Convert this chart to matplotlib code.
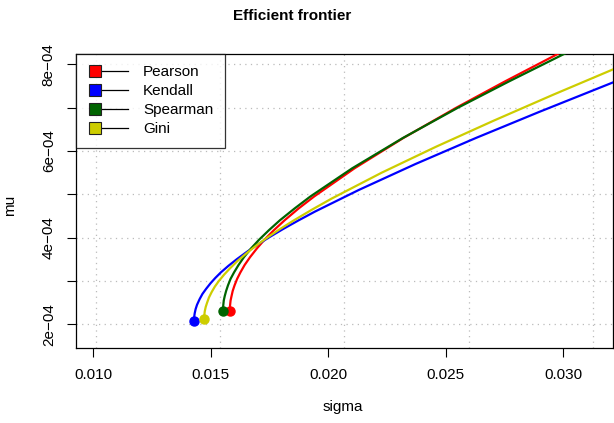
import matplotlib
matplotlib.use("Agg")
import matplotlib.pyplot as plt
from matplotlib.lines import Line2D
from matplotlib.legend_handler import HandlerLine2D

plt.rcParams['font.family'] = ['Liberation Sans', 'DejaVu Sans']

# efficient frontiers (sigma, mu)
pearson_sigma = [0.01581, 0.01581, 0.01582, 0.01584, 0.01588, 0.01593, 0.01601, 0.01612,
                 0.01626, 0.01644, 0.01667, 0.01696, 0.01728, 0.01768, 0.01814, 0.01873,
                 0.01940, 0.02112, 0.02320, 0.02546, 0.02751, 0.02978, 0.03073]
pearson_mu = [2.31e-4, 2.38e-4, 2.45e-4, 2.55e-4, 2.65e-4, 2.77e-4, 2.90e-4, 3.05e-4,
              3.20e-4, 3.37e-4, 3.55e-4, 3.75e-4, 3.95e-4, 4.17e-4, 4.40e-4, 4.67e-4,
              4.95e-4, 5.60e-4, 6.30e-4, 7.00e-4, 7.60e-4, 8.24e-4, 8.50e-4]

kendall_sigma = [0.01428, 0.014285, 0.01431, 0.01435, 0.01441, 0.01452, 0.01464, 0.01480,
                 0.01499, 0.01519, 0.01543, 0.01575, 0.01610, 0.01653, 0.01702, 0.01752,
                 0.01808, 0.01874, 0.01943, 0.02130, 0.02372, 0.02629, 0.02898, 0.03212,
                 0.03316]
kendall_mu = [2.08e-4, 2.15e-4, 2.25e-4, 2.35e-4, 2.45e-4, 2.58e-4, 2.70e-4, 2.82e-4,
              2.95e-4, 3.07e-4, 3.20e-4, 3.35e-4, 3.50e-4, 3.67e-4, 3.85e-4, 4.02e-4,
              4.20e-4, 4.40e-4, 4.60e-4, 5.10e-4, 5.70e-4, 6.30e-4, 6.90e-4, 7.58e-4,
              7.80e-4]

spearman_sigma = [0.01552, 0.01552, 0.01553, 0.01555, 0.01559, 0.01565, 0.01573, 0.01584,
                  0.01599, 0.01618, 0.01641, 0.01671, 0.01705, 0.01747, 0.01794, 0.01856,
                  0.01924, 0.02102, 0.02318, 0.02553, 0.02768, 0.03005, 0.03100]
spearman_mu = [2.31e-4, 2.38e-4, 2.45e-4, 2.55e-4, 2.65e-4, 2.77e-4, 2.90e-4, 3.05e-4,
               3.20e-4, 3.37e-4, 3.55e-4, 3.75e-4, 3.95e-4, 4.17e-4, 4.40e-4, 4.67e-4,
               4.95e-4, 5.60e-4, 6.30e-4, 7.00e-4, 7.60e-4, 8.24e-4, 8.50e-4]

gini_sigma = [0.01472, 0.01472, 0.01474, 0.01478, 0.01484, 0.01492, 0.01504, 0.01517,
              0.01534, 0.01557, 0.01583, 0.01615, 0.01654, 0.01694, 0.01740, 0.01795,
              0.01854, 0.01932, 0.02014, 0.02228, 0.02460, 0.02705, 0.02959, 0.03212,
              0.03309]
gini_mu = [2.13e-4, 2.20e-4, 2.30e-4, 2.40e-4, 2.50e-4, 2.62e-4, 2.75e-4, 2.87e-4,
           3.00e-4, 3.15e-4, 3.30e-4, 3.47e-4, 3.65e-4, 3.82e-4, 4.00e-4, 4.20e-4,
           4.40e-4, 4.65e-4, 4.90e-4, 5.50e-4, 6.10e-4, 6.70e-4, 7.30e-4, 7.88e-4,
           8.10e-4]

names = ['Pearson', 'Kendall', 'Spearman', 'Gini']
colors = ['#FF0000', '#0000FF', '#006400', '#CDCD00']

x_ticks = [0.010, 0.015, 0.020, 0.025, 0.030]
x_tick_labels = ['0.010', '0.015', '0.020', '0.025', '0.030']
y_ticks = [2e-4, 3e-4, 4e-4, 5e-4, 6e-4, 7e-4, 8e-4]
y_tick_labels = ['2e\u221204', '', '4e\u221204', '', '6e\u221204', '', '8e\u221204']
x_grid = [0.01011, 0.01540, 0.02069, 0.02598, 0.03127]


class LeftMarkerHandler(HandlerLine2D):
    # square at the left end of the legend line, like R's legend
    def create_artists(self, *args, **kwargs):
        artists = super().create_artists(*args, **kwargs)
        for a in artists:
            a.set_markevery([0])
        return artists


def main():
    fig = plt.figure(figsize=(6.14, 4.23), dpi=100)
    ax = fig.add_axes([76 / 614, 75 / 423, 537 / 614, 294 / 423])

    series = [(pearson_sigma, pearson_mu), (kendall_sigma, kendall_mu),
              (spearman_sigma, spearman_mu), (gini_sigma, gini_mu)]

    # dotted grid
    for gx in x_grid:
        ax.axvline(gx, color='#BBBBBB', lw=0.9, ls=(0, (1, 3.5)), zorder=0)
    for gy in y_ticks:
        ax.axhline(gy, color='#BBBBBB', lw=0.9, ls=(0, (1, 3.5)), zorder=0)

    for (s, m), col in zip(series, colors):
        ax.plot(s, m, color=col, lw=1.6, zorder=3, solid_joinstyle='round')
        ax.plot(s[0], m[0], 'o', color=col, ms=6.5, zorder=4)

    ax.set_xlim(0.009255, 0.03213)
    ax.set_ylim(1.453e-4, 8.238e-4)
    ax.set_xticks(x_ticks)
    ax.set_xticklabels(x_tick_labels)
    ax.set_yticks(y_ticks)
    ax.set_yticklabels(y_tick_labels, rotation=90, va='center')
    ax.tick_params(axis='both', direction='out', length=6.5, width=0.8, labelsize=11)
    ax.tick_params(axis='x', pad=8)
    ax.tick_params(axis='y', pad=8)
    for sp in ax.spines.values():
        sp.set_linewidth(0.9)

    handles = [Line2D([], [], color='black', lw=0.9, marker='s', ms=8,
                      markerfacecolor=col, markeredgecolor='#222222',
                      markeredgewidth=0.8)
               for col in colors]
    leg = ax.legend(handles, names, loc='upper left', numpoints=2, fontsize=11,
                    handler_map={Line2D: LeftMarkerHandler(marker_pad=0.5, numpoints=2)},
                    frameon=True, fancybox=False, borderaxespad=0, borderpad=0.75,
                    handlelength=3.15, handletextpad=0.48, labelspacing=0.32)
    leg.get_frame().set_edgecolor('black')
    leg.get_frame().set_linewidth(0.9)
    leg.set_zorder(5)

    fig.text(292 / 614, 1 - 16 / 423, 'Efficient frontier', ha='center', va='center',
             fontsize=11, fontweight='bold')
    fig.text(343 / 614, 1 - 407 / 423, 'sigma', ha='center', va='center', fontsize=11)
    fig.text(10 / 614, 1 - 205 / 423, 'mu', ha='center', va='center', fontsize=11,
             rotation=90)

    fig.savefig('out.png', dpi=100)


if __name__ == '__main__':
    main()
